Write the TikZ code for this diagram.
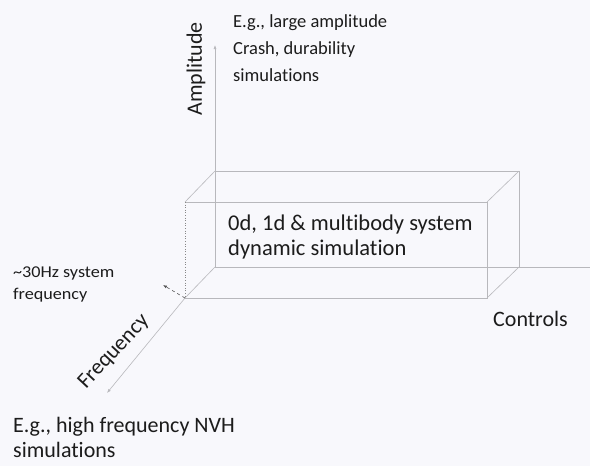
\documentclass[tikz,border=0pt]{standalone}
\usepackage{fontspec}
\setmainfont{Carlito}[Ligatures=NoCommon]
\newfontfamily\widefont{Carlito}[Ligatures=NoCommon,FakeStretch=1.1]
\usetikzlibrary{arrows.meta,positioning}
\definecolor{Ink}{HTML}{1C1C1C}
\definecolor{Edge}{HTML}{B8B8BC}
\definecolor{Paper}{HTML}{F8F8FC}
\definecolor{Tick}{HTML}{555555}

\begin{document}
\begin{tikzpicture}[x=1pt,y=-1pt,>=Latex]
\tikzset{edge/.style={Edge,line width=0.6pt}, axis/.style={->,Edge,line width=0.6pt,>={Latex[length=4pt,width=3pt]}}, note/.style={text=Ink,align=left,anchor=north west,inner sep=0pt}, axislabel/.style={text=Ink,inner sep=0pt,font=\fontsize{22}{24}\selectfont}}
\fill[Paper] (0,0) rectangle (590,466);
\useasboundingbox (0,0) rectangle (590,466);
% box corners
\coordinate (b1) at (215,171); \coordinate (b2) at (519,171);
\coordinate (b3) at (519,267); \coordinate (b4) at (215,267);
\coordinate (f1) at (185,202); \coordinate (f2) at (487,202);
\coordinate (f3) at (487,298); \coordinate (f4) at (185,298);
% axes
\coordinate (amptip) at (215,45);
\coordinate (ctrlend) at (590,267);
\coordinate (freqtip) at (107,393);
\coordinate (hz) at (163,285);
\draw[axis] (b4) -- (amptip);
\draw[edge] (b4) -- (ctrlend);
\draw[axis] (f4) -- (freqtip);
% box
\draw[edge] (b1) -- (b2) -- (b3);
\draw[edge] (f4) -- (f3) -- (f2) -- (f1);
\draw[edge,dotted,line width=0.8pt,Tick!70] (f1) -- (f4);
\draw[edge] (b1) -- (f1);
\draw[edge] (b2) -- (f2);
\draw[edge] (b3) -- (f3);
\draw[edge] (b4) -- (f4);
\draw[->,dashed,Tick,line width=0.6pt,>={Latex[length=4pt,width=3pt]}] (f4) -- (hz);
% labels
\node[axislabel,rotate=90] (amp) at (196,69) {Amplitude};
\node[note,font=\fontsize{18.5}{27}\selectfont] (ampnote) at (233,14) {E.g., large amplitude\\Crash, durability\\simulations};
\node[note,font=\fontsize{22.5}{25}\selectfont] (boxtext) at (228,215) {0d, 1d \& multibody system\\dynamic simulation};
\node[note,font=\widefont\fontsize{16.5}{22}\selectfont] (hznote) at (13,267) {\textasciitilde30Hz system\\frequency};
\node[axislabel,rotate=47] (freq) at (114,352) {Frequency};
\node[axislabel,anchor=north west] (ctrl) at (493,311) {Controls};
\node[note,font=\fontsize{22}{25}\selectfont] (nvh) at (13,417) {E.g., high frequency NVH\\simulations};
\end{tikzpicture}
\end{document}
